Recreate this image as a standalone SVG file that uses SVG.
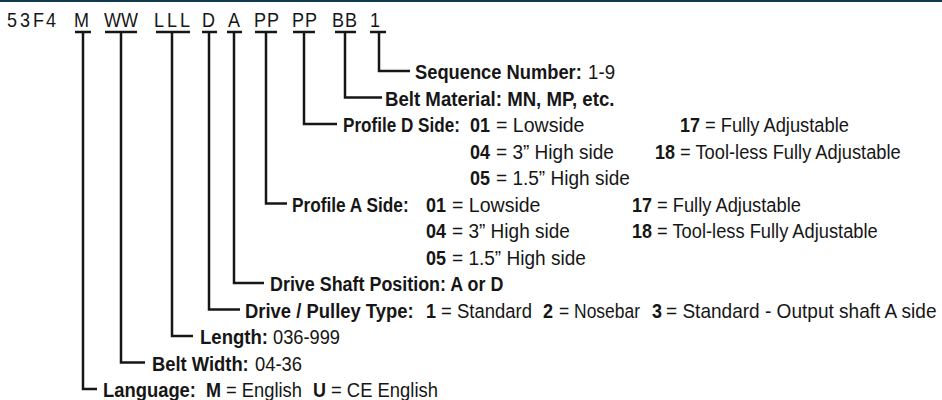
<svg xmlns="http://www.w3.org/2000/svg" width="942" height="400" viewBox="0 0 942 400">
<style>
text{font-family:"Liberation Sans",Arial,sans-serif;font-size:21px;fill:#161616}
.b{font-weight:bold}
.h{font-size:20px}
.c{fill:none;stroke:#161616;stroke-width:2.5;stroke-linejoin:miter;stroke-linecap:butt}
</style>
<rect x="0" y="0" width="942" height="2" fill="#0f3a52"/>
<g id="header" transform="scale(0.9,1)">
<text class="h" x="7.8 22.2 36.7 51.1" y="27">53F4</text>
<text class="h" x="82.2" y="27">M</text>
<text class="h" x="115.6 134.4" y="27">WW</text>
<text class="h" x="171.1 185.6 200" y="27">LLL</text>
<text class="h" x="224.4" y="27">D</text>
<text class="h" x="253.3" y="27">A</text>
<text class="h" x="282.2 296.7" y="27">PP</text>
<text class="h" x="324.4 338.9" y="27">PP</text>
<text class="h" x="368.9 383.3" y="27">BB</text>
<text class="h" x="411.1" y="27">1</text>
</g>
<g id="connectors" class="c">
<path d="M75 32H91M83 32V389H97"/>
<path d="M105 32H137M121 32V362.5H145"/>
<path d="M156 32H190M172 32V336H193"/>
<path d="M202 32H217M209 32V309.5H240"/>
<path d="M227 32H242M234 32V283H264"/>
<path d="M255 32H277M266 32V203.5H287"/>
<path d="M293 32H315M304 32V124H337"/>
<path d="M335 32H356M345 32V97.5H382"/>
<path d="M370 32H386M379 32V71H410"/>
</g>
<g id="sequence">
<text class="b" transform="matrix(0.8725 0 0 1 415 79)">Sequence Number:</text>
<text transform="matrix(0.891 0 0 1 588 79)">1-9</text>
</g>
<g id="belt-material">
<text class="b" transform="matrix(0.8875 0 0 1 385 105.5)">Belt Material: MN, MP, etc.</text>
</g>
<g id="profile-d">
<text class="b" transform="matrix(0.815 0 0 1 343 132)">Profile D Side:</text>
<text class="b" transform="matrix(0.8565 0 0 1 470 132)">01</text>
<text transform="matrix(0.93 0 0 1 496 132)">= Lowside</text>
<text class="b" transform="matrix(0.8565 0 0 1 680 132)">17</text>
<text transform="matrix(0.872 0 0 1 705 132)">= Fully Adjustable</text>
<text class="b" transform="matrix(0.8565 0 0 1 470 158.5)">04</text>
<text transform="matrix(0.907 0 0 1 496 158.5)">= 3” High side</text>
<text class="b" transform="matrix(0.8565 0 0 1 655 158.5)">18</text>
<text transform="matrix(0.871 0 0 1 680 158.5)">= Tool-less Fully Adjustable</text>
<text class="b" transform="matrix(0.8565 0 0 1 470 185)">05</text>
<text transform="matrix(0.907 0 0 1 496 185)">= 1.5” High side</text>
</g>
<g id="profile-a">
<text class="b" transform="matrix(0.822 0 0 1 292 211.5)">Profile A Side:</text>
<text class="b" transform="matrix(0.8565 0 0 1 426 211.5)">01</text>
<text transform="matrix(0.93 0 0 1 452 211.5)">= Lowside</text>
<text class="b" transform="matrix(0.8565 0 0 1 632 211.5)">17</text>
<text transform="matrix(0.872 0 0 1 657 211.5)">= Fully Adjustable</text>
<text class="b" transform="matrix(0.8565 0 0 1 426 238)">04</text>
<text transform="matrix(0.907 0 0 1 452 238)">= 3” High side</text>
<text class="b" transform="matrix(0.8565 0 0 1 632 238)">18</text>
<text transform="matrix(0.871 0 0 1 657 238)">= Tool-less Fully Adjustable</text>
<text class="b" transform="matrix(0.8565 0 0 1 426 264.5)">05</text>
<text transform="matrix(0.907 0 0 1 452 264.5)">= 1.5” High side</text>
</g>
<g id="drive-shaft">
<text class="b" transform="matrix(0.853 0 0 1 270 291)">Drive Shaft Position: A or D</text>
</g>
<g id="drive-pulley">
<text class="b" transform="matrix(0.878 0 0 1 245 317.5)">Drive / Pulley Type:</text>
<text class="b" transform="matrix(0.856 0 0 1 426 317.5)">1</text>
<text transform="matrix(0.881 0 0 1 441 317.5)">= Standard</text>
<text class="b" transform="matrix(0.856 0 0 1 543 317.5)">2</text>
<text transform="matrix(0.831 0 0 1 559 317.5)">= Nosebar</text>
<text class="b" transform="matrix(0.856 0 0 1 652 317.5)">3</text>
<text transform="matrix(0.908 0 0 1 666 317.5)">= Standard - Output shaft A side</text>
</g>
<g id="length">
<text class="b" transform="matrix(0.883 0 0 1 200 344)">Length:</text>
<text transform="matrix(0.87 0 0 1 273 344)">036-999</text>
</g>
<g id="belt-width">
<text class="b" transform="matrix(0.875 0 0 1 152 370.5)">Belt Width:</text>
<text transform="matrix(0.875 0 0 1 255 370.5)">04-36</text>
</g>
<g id="language">
<text class="b" transform="matrix(0.876 0 0 1 103 397)">Language:</text>
<text class="b" transform="matrix(0.857 0 0 1 206 397)">M</text>
<text transform="matrix(0.874 0 0 1 226 397)">= English</text>
<text class="b" transform="matrix(0.855 0 0 1 313 397)">U</text>
<text transform="matrix(0.877 0 0 1 331 397)">= CE English</text>
</g>
</svg>
